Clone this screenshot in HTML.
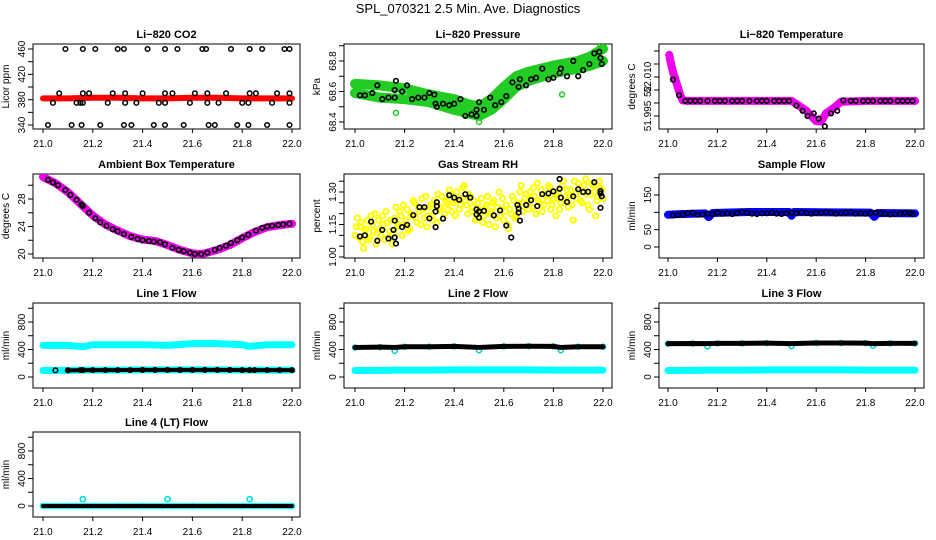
<!DOCTYPE html>
<html><head><meta charset="utf-8"><style>
html,body{margin:0;padding:0;background:#fff;}
svg{display:block;font-family:"Liberation Sans",sans-serif;}
</style></head><body>
<svg id="c" width="936" height="540" viewBox="0 0 936 540">
<text x="468" y="13" text-anchor="middle" font-size="13">SPL_070321  2.5 Min. Ave. Diagnostics</text>
</svg>
<script>
// ---------- data ----------
const co2RedT = [21.0,21.1,21.2,21.3,21.4,21.5,21.6,21.7,21.8,21.9,22.0];
const co2RedV = [382,382,383,383,382,382,383,383,382,382,382];
const co2BlkT = [21.09,21.16,21.21,21.30,21.325,21.42,21.49,21.54,21.64,21.655,21.755,21.83,21.88,21.97,21.99,
 21.065,21.16,21.185,21.28,21.33,21.40,21.49,21.52,21.61,21.66,21.735,21.83,21.855,21.94,21.99,
 21.04,21.135,21.15,21.16,21.26,21.33,21.375,21.465,21.49,21.59,21.66,21.705,21.80,21.825,21.92,21.99,
 21.02,21.115,21.155,21.23,21.325,21.355,21.445,21.49,21.565,21.665,21.69,21.78,21.825,21.90,21.99];
const co2BlkV = [460,460,460,460,460,460,460,460,460,460,460,460,460,460,460,
 390,390,390,390,390,390,390,390,390,390,390,390,390,390,390,
 375,375,375,375,375,375,375,375,375,375,375,375,375,375,375,375,
 340,340,340,340,340,340,340,340,340,340,340,340,340,340,340];

const presT = [21.0,21.1,21.2,21.3,21.4,21.45,21.5,21.55,21.6,21.65,21.7,21.8,21.9,21.95,22.0];
const presUpper = [68.65,68.64,68.62,68.58,68.55,68.52,68.50,68.55,68.63,68.70,68.73,68.77,68.80,68.83,68.88];
const presLower = [68.59,68.56,68.55,68.53,68.48,68.46,68.44,68.48,68.55,68.63,68.67,68.72,68.75,68.77,68.80];
const presOutT = [21.165,21.5,21.835,21.99];
const presOutV = [68.46,68.40,68.58,68.90];
const presBlkT = [21.02,21.04,21.07,21.09,21.11,21.135,21.16,21.16,21.165,21.19,21.21,21.23,21.255,21.28,21.3,21.32,21.325,21.33,21.355,21.38,21.4,21.425,21.445,21.47,21.49,21.49,21.5,21.52,21.545,21.565,21.59,21.61,21.635,21.66,21.665,21.69,21.71,21.73,21.755,21.78,21.8,21.825,21.83,21.855,21.88,21.9,21.92,21.945,21.965,21.985,21.99,21.995];
const presBlkV = [68.575,68.575,68.59,68.64,68.55,68.56,68.56,68.61,68.67,68.6,68.64,68.55,68.56,68.56,68.59,68.58,68.52,68.50,68.52,68.51,68.52,68.55,68.44,68.45,68.44,68.48,68.53,68.48,68.56,68.51,68.53,68.57,68.66,68.63,68.68,68.64,68.68,68.69,68.75,68.68,68.69,68.72,68.75,68.70,68.80,68.70,68.74,68.78,68.85,68.86,68.82,68.78];

const tempT = [21.005,21.01,21.02,21.03,21.04,21.05,21.06,21.08,21.2,21.3,21.4,21.5,21.53,21.56,21.58,21.6,21.62,21.64,21.67,21.7,21.8,21.9,22.0];
const tempV = [52.0185,52.016,52.012,52.009,52.006,52.003,52.001,52.0008,52.0008,52.0008,52.0008,52.0008,51.999,51.997,51.995,51.993,51.993,51.996,51.998,52.0005,52.0008,52.0008,52.0008];
const tempBlkT = [21.02,21.045,21.07,21.09,21.11,21.13,21.16,21.19,21.21,21.23,21.26,21.28,21.3,21.33,21.36,21.38,21.4,21.43,21.45,21.47,21.49,21.52,21.545,21.565,21.59,21.61,21.635,21.66,21.685,21.71,21.74,21.76,21.79,21.81,21.83,21.86,21.88,21.9,21.93,21.95,21.97,21.99];
const tempBlkV = [52.009,52.003,52.0008,52.0008,52.0008,52.0008,52.0008,52.0008,52.0008,52.0008,52.0008,52.0008,52.0008,52.0008,52.0008,52.0008,52.0008,52.0008,52.0008,52.0008,52.0008,51.999,51.997,51.995,51.996,51.994,51.991,51.996,51.997,52.001,52.0008,52.0008,52.0008,52.0008,52.0008,52.0008,52.0008,52.0008,52.0008,52.0008,52.0008,52.0008];

const ambT = [21.0,21.05,21.1,21.15,21.2,21.25,21.3,21.35,21.4,21.45,21.5,21.55,21.6,21.625,21.65,21.7,21.75,21.8,21.85,21.9,21.95,22.0];
const ambV = [31.2,30.3,29.0,27.3,25.6,24.3,23.4,22.6,22.1,21.9,21.3,20.6,20.1,20.0,20.1,20.6,21.3,22.3,23.2,23.9,24.2,24.4];
const ambBlkT = [21.02,21.04,21.06,21.09,21.11,21.135,21.155,21.16,21.185,21.21,21.23,21.255,21.28,21.3,21.325,21.355,21.38,21.4,21.425,21.445,21.47,21.49,21.52,21.545,21.565,21.59,21.61,21.635,21.66,21.69,21.71,21.735,21.755,21.78,21.8,21.825,21.855,21.88,21.9,21.92,21.945,21.965,21.99];
const ambBlkV = [30.8,30.4,30.0,29.3,28.6,27.9,27.2,27.0,26.0,25.2,24.6,24.1,23.6,23.3,22.9,22.5,22.2,22.0,21.9,21.8,21.7,21.4,20.9,20.6,20.4,20.2,20.0,20.0,20.2,20.6,20.9,21.2,21.6,22.0,22.4,22.8,23.4,23.8,24.0,24.1,24.2,24.3,24.4];

const rhY1 = [1.10,1.18,1.14,1.07,1.12,1.17,1.09,1.15,1.20,1.11,1.13,1.19,1.08,1.16,1.12,1.06,1.18,1.14,1.21,1.10,1.15,1.22,1.13,1.19,1.25,1.16,1.21,1.27,1.18,1.14,1.23,1.19,1.26,1.16,1.22,1.28,1.20,1.25,1.31,1.21,1.26,1.30,1.22,1.27,1.33,1.24,1.29,1.21,1.26,1.18,1.22,1.27,1.19,1.24,1.15,1.21,1.26,1.18,1.30,1.22,1.17,1.24,1.13,1.20,1.26,1.19,1.23,1.33,1.25,1.29,1.22,1.27,1.32,1.20,1.26,1.31,1.24,1.28,1.33,1.22,1.27,1.19,1.30,1.25,1.35,1.28,1.23,1.31,1.17,1.29,1.34,1.26,1.30,1.36,1.24,1.29,1.33,1.19,1.28,1.32,1.27];
const rhY2 = [1.14,1.09,1.16,1.04,1.13,1.08,1.19,1.12,1.06,1.17,1.10,1.15,1.21,1.09,1.17,1.11,1.23,1.15,1.19,1.24,1.17,1.12,1.20,1.26,1.18,1.23,1.15,1.22,1.28,1.19,1.24,1.17,1.21,1.29,1.23,1.18,1.26,1.22,1.29,1.25,1.19,1.27,1.24,1.32,1.26,1.20,1.28,1.23,1.17,1.25,1.20,1.16,1.23,1.28,1.20,1.25,1.14,1.23,1.19,1.27,1.21,1.15,1.22,1.28,1.18,1.25,1.30,1.21,1.27,1.24,1.30,1.23,1.28,1.34,1.25,1.21,1.29,1.26,1.32,1.24,1.30,1.27,1.22,1.33,1.26,1.31,1.28,1.24,1.35,1.27,1.31,1.25,1.33,1.29,1.22,1.34,1.30,1.26,1.35,1.31];
const rhBlkT = [21.02,21.04,21.065,21.09,21.11,21.135,21.155,21.16,21.16,21.165,21.19,21.21,21.235,21.26,21.28,21.3,21.325,21.325,21.33,21.33,21.355,21.38,21.4,21.42,21.445,21.465,21.49,21.49,21.5,21.5,21.52,21.56,21.585,21.61,21.63,21.655,21.66,21.66,21.665,21.69,21.71,21.735,21.755,21.78,21.8,21.825,21.825,21.83,21.855,21.88,21.9,21.92,21.94,21.965,21.99,21.99,21.995,21.99];
const rhBlkV = [1.095,1.1,1.163,1.075,1.125,1.085,1.125,1.168,1.09,1.062,1.138,1.148,1.193,1.23,1.23,1.178,1.138,1.21,1.235,1.253,1.177,1.285,1.274,1.264,1.29,1.274,1.22,1.196,1.21,1.182,1.213,1.192,1.215,1.145,1.09,1.24,1.223,1.205,1.168,1.24,1.262,1.235,1.29,1.293,1.303,1.36,1.315,1.274,1.254,1.28,1.313,1.3,1.301,1.345,1.304,1.293,1.28,1.227];

const sfT = [21.0,21.05,21.1,21.15,21.165,21.18,21.33,21.49,21.5,21.51,21.66,21.82,21.835,21.85,22.0];
const sfBlue = [93,95,96,97,86,98,101,101,90,101,100,99,87,98,97];
const sfBlkT = [21.02,21.04,21.06,21.08,21.1,21.12,21.14,21.16,21.18,21.2,21.22,21.24,21.26,21.28,21.3,21.32,21.34,21.36,21.38,21.4,21.42,21.44,21.46,21.48,21.5,21.52,21.54,21.56,21.58,21.6,21.62,21.64,21.66,21.68,21.7,21.72,21.74,21.76,21.78,21.8,21.82,21.84,21.86,21.88,21.9,21.92,21.94,21.96,21.98,21.99];
const sfBlkV = [91,92,94,97,99,93,94,96,95,99,96,97,95,98,101,99,96,95,97,97,99,96,95,97,99,97,100,98,96,98,99,100,99,96,97,99,100,96,97,96,98,99,98,96,94,95,96,99,98,95];

const l1T = [21.0,21.1,21.16,21.2,21.3,21.4,21.5,21.6,21.7,21.8,21.83,21.9,22.0];
const l1Cyan = [460,460,440,470,470,470,460,485,485,470,445,470,470];
const l1Low = [95,97,100,100,100,103,103,103,103,100,100,100,100];
const l2Cyan = [95,97,100,100,100,103,103,103,103,100,100,100,100];
const l2Blk = [430,435,380,440,440,445,390,445,448,445,390,440,440];
const l3Cyan = [95,97,100,100,100,103,103,103,103,100,100,100,100];
const l3Blk = [485,488,445,490,490,493,450,495,495,492,455,490,490];
const l4Cyan = [0,0,100,0,0,0,100,0,0,0,100,0,0];
const l4Blk = [0,0,0,0,0,0,0,0,0,0,0,0,0];
const xTicks = [21.0,21.2,21.4,21.6,21.8,22.0];
const xTickLabels = ["21.0","21.2","21.4","21.6","21.8","22.0"];

// ---------- layout ----------
const NS = "http://www.w3.org/2000/svg";
const svg = document.getElementById('c');
const COLS = [{b0:33,b1:300,x0:43,x1:292},{b0:344,b1:612,x0:355,x1:603},{b0:659,b1:924,x0:668,x1:915}];
const ROWS = [{t:44,b:129},{t:174,b:258},{t:303,b:388},{t:432,b:517}];
function mk(tag, attrs, parent){const e=document.createElementNS(NS,tag);for(const k in attrs)e.setAttribute(k,attrs[k]);(parent||svg).appendChild(e);return e;}

function panel(name, title, ylab, col, row, ycal, yticks, ylabels){
  const C=COLS[col], R=ROWS[row];
  const g=mk('g',{});
  
  
  const sx=t=>C.x0+(t-21)*(C.x1-C.x0);
  const sy=v=>ycal[1]+(v-ycal[0])*(ycal[3]-ycal[1])/(ycal[2]-ycal[0]);
  const fr=mk('rect',{x:C.b0,y:R.t,width:C.b1-C.b0,height:R.b-R.t,fill:'none',stroke:'#000','stroke-width':1},g);
  
  
  const tt=mk('text',{x:(C.b0+C.b1)/2,y:R.t-6,'text-anchor':'middle','font-size':11,'font-weight':'bold'},g);
  tt.textContent=title;
  
  
  const yl=mk('text',{transform:`translate(${C.b0-24},${(R.t+R.b)/2}) rotate(-90)`,'text-anchor':'middle','font-size':10},g);
  yl.textContent=ylab;
  
  
  const xa=mk('g',{},g);
  
  
  mk('line',{x1:sx(xTicks[0]),x2:sx(xTicks[xTicks.length-1]),y1:R.b,y2:R.b,stroke:'#000'},xa);
  xTicks.forEach((t,i)=>{
    mk('line',{x1:sx(t),x2:sx(t),y1:R.b,y2:R.b+4,stroke:'#000'},xa);
    const tx=mk('text',{x:sx(t),y:R.b+18,'text-anchor':'middle','font-size':10},xa);
    tx.textContent=xTickLabels[i];
  });
  const ya=mk('g',{},g);
  
  
  yticks.forEach((v,i)=>{
    const y=sy(v); if(y<R.t-1||y>R.b+1) return;
    mk('line',{x1:C.b0-5,x2:C.b0,y1:y,y2:y,stroke:'#000'},ya);
    if(ylabels[i]){const tx=mk('text',{transform:`translate(${C.b0-8},${y}) rotate(-90)`,'text-anchor':'middle','font-size':10},ya);tx.textContent=ylabels[i];}
  });
  const clip=mk('clipPath',{id:'cp'+name},svg);
  mk('rect',{x:C.b0,y:R.t,width:C.b1-C.b0,height:R.b-R.t},clip);
  const d=mk('g',{'clip-path':`url(#cp${name})`},g);
  return {sx,sy,g:d};
}
function band(p, ts, vs, color, w, name){
  const pl=mk('polyline',{points:ts.map((t,i)=>p.sx(t)+','+p.sy(vs[i])).join(' '),fill:'none',stroke:color,'stroke-width':w,'stroke-linejoin':'round','stroke-linecap':'round'},p.g);
  
  
}
function pts(p, ts, vs, color, r, sw, name){
  const gg=mk('g',{},p.g);
  
  
  ts.forEach((t,i)=>mk('circle',{cx:p.sx(t),cy:p.sy(vs[i]),r:r,fill:'none',stroke:color,'stroke-width':sw},gg));
}

// CO2
let p=panel('co2','Li−820 CO2','Licor ppm',0,0,[340,125,460,49],[340,360,380,400,420,440,460],['340','','380','','420','','460']);
band(p,co2RedT,co2RedV,'#ff0000',6,'co2-red-series');
pts(p,co2BlkT,co2BlkV,'#000',2.3,1.5,'co2-black-points');
// Pressure
p=panel('pressure','Li−820 Pressure','kPa',1,0,[68.4,122,68.8,61],[68.4,68.5,68.6,68.7,68.8,68.9],['68.4','','68.6','','68.8','']);
band(p,presT,presUpper,'#22cc22',10,'pressure-green-upper');
band(p,presT,presLower,'#22cc22',10,'pressure-green-lower');
pts(p,presOutT,presOutV,'#22cc22',2.5,1.5,'pressure-green-outliers');
pts(p,presBlkT,presBlkV,'#000',2.3,1.6,'pressure-black-points');
// Temperature
p=panel('licor-temp','Li−820 Temperature','degrees C',2,0,[51.995,116,52.010,77],[51.995,52.0,52.005,52.010,52.015,52.020],['51.995','','52.','52.010','','']);
band(p,tempT,tempV,'#ee00ee',8,'temperature-magenta-series');
pts(p,tempT,tempV,'#ee00ee',3,2,'temperature-magenta-points');
pts(p,tempBlkT,tempBlkV,'#000',2.3,1.6,'temperature-black-points');
// Ambient
p=panel('ambient','Ambient Box Temperature','degrees C',0,1,[20,254,28,199],[20,22,24,26,28,30],['20','','24','','28','']);
band(p,ambT,ambV,'#ee00ee',8,'ambient-magenta-series');
pts(p,ambBlkT,ambBlkV,'#000',2.3,1.6,'ambient-black-points');
// RH
p=panel('rh','Gas Stream RH','percent',1,1,[1.0,257,1.3,192],[1.0,1.05,1.1,1.15,1.2,1.25,1.3,1.35],['1.00','','','1.15','','','1.30','']);
pts(p,rhY1.map((v,i)=>21+i*0.01),rhY1,'#ffff00',2.6,2,'rh-yellow-points-a');
pts(p,rhY2.map((v,i)=>21.005+i*0.01),rhY2,'#ffff00',2.6,2,'rh-yellow-points-b');
pts(p,rhBlkT,rhBlkV,'#000',2.3,1.6,'rh-black-points');
// Sample flow
p=panel('sample-flow','Sample Flow','ml/min',2,1,[0,247,150,195],[0,50,100,150,200],['0','50','','150','']);
band(p,sfT,sfBlue,'#0000ff',8,'sample-flow-blue-series');
pts(p,sfBlkT,sfBlkV,'#000',2.3,1.5,'sample-flow-black-points');
// Line flows
const lt=[0,200,400,600,800,1000], ll=['0','','400','','800',''];
p=panel('line1','Line 1 Flow','ml/min',0,2,[0,377,800,322],lt,ll);
band(p,l1T,l1Cyan,'#00ffff',7,'line1-cyan-upper');
band(p,l1T,l1Low,'#00ffff',7,'line1-cyan-lower');
band(p,l1T.slice(1),l1Low.slice(1),'#000',4,'line1-black-series');
pts(p,l1T.slice(1).concat([21.05,21.15,21.25,21.35,21.45,21.55,21.65,21.75,21.85,21.95]),l1Low.slice(1).concat([97,100,100,100,103,103,103,103,100,100]),'#000',2.3,1.5,'line1-black-points');
p=panel('line2','Line 2 Flow','ml/min',1,2,[0,377,800,322],lt,ll);
band(p,l1T,l2Cyan,'#00ffff',7,'line2-cyan-series');
pts(p,l1T,l2Blk,'#00cccc',2.5,1.5,'line2-cyan-dips');
band(p,l1T,l2Blk.map(v=>Math.max(v,430)),'#000',5,'line2-black-series');
p=panel('line3','Line 3 Flow','ml/min',2,2,[0,377,800,322],lt,ll);
band(p,l1T,l3Cyan,'#00ffff',7,'line3-cyan-series');
pts(p,l1T,l3Blk,'#00cccc',2.5,1.5,'line3-cyan-dips');
band(p,l1T.slice(0),l3Blk.map(v=>Math.max(v,485)),'#000',5,'line3-black-series');
p=panel('line4','Line 4 (LT) Flow','ml/min',0,3,[0,506,800,451],lt,ll);
pts(p,l1T,l4Cyan,'#00dddd',2.6,1.6,'line4-cyan-points');
band(p,l1T,l4Blk,'#00ffff',6,'line4-cyan-series');
band(p,l1T,l4Blk,'#000',4,'line4-black-series');
</script>
</body></html>
